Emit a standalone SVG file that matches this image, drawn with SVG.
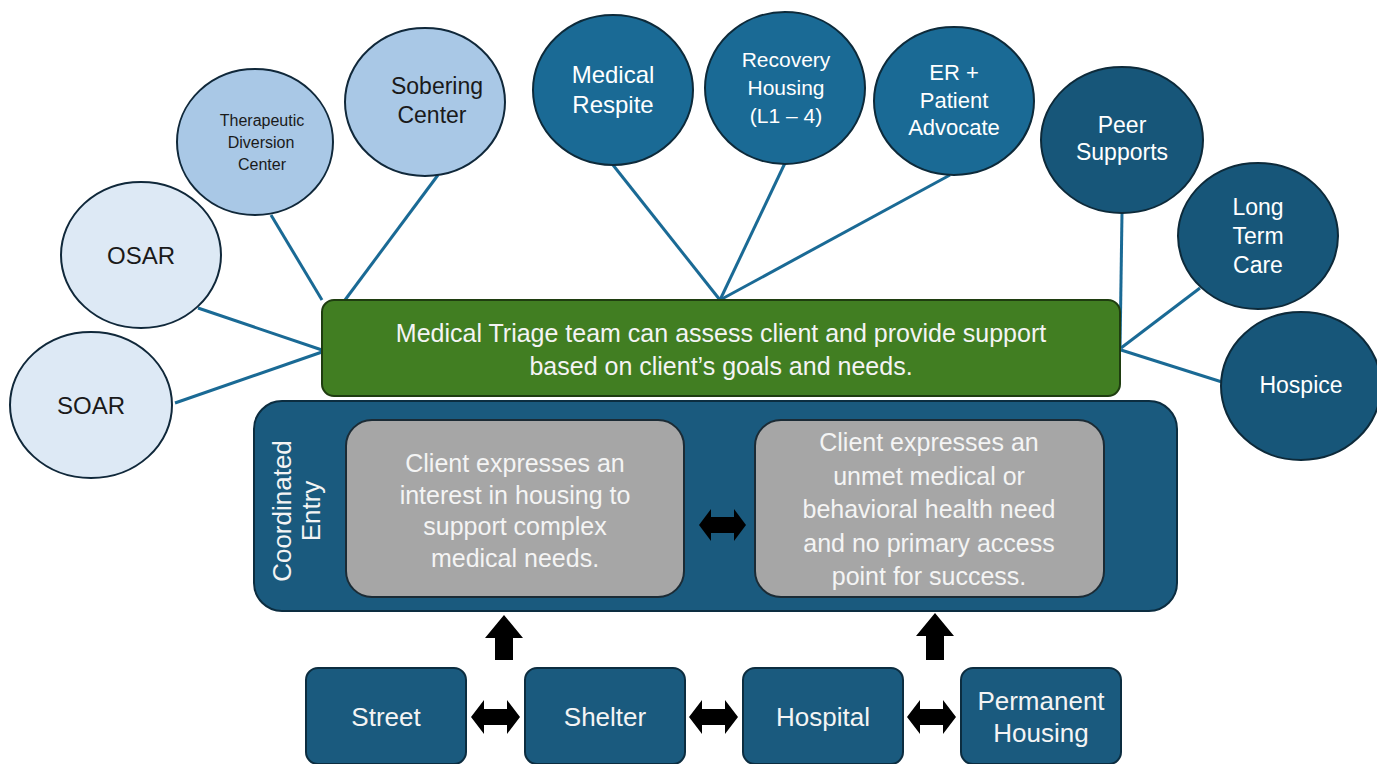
<svg xmlns="http://www.w3.org/2000/svg" width="1377" height="764" viewBox="0 0 1377 764">
<defs>
<style>
.lt{fill:#dde9f5;stroke:#10283a;stroke-width:2}
.md{fill:#a9c8e6;stroke:#10283a;stroke-width:2}
.bl{fill:#1a6a95;stroke:#0d2a3a;stroke-width:2}
.dk{fill:#175679;stroke:#0d2a3a;stroke-width:2}
.box{fill:#1a5a7e;stroke:#0c2d40;stroke-width:2}
.gray{fill:#a6a6a6;stroke:#1b2b35;stroke-width:2}
.green{fill:#417e22;stroke:#1f3d10;stroke-width:2}
text{font-family:"Liberation Sans",Arial,sans-serif;text-anchor:middle}
.dt{fill:#1a1a1a;font-size:23px}
.wt{fill:#ffffff;font-size:22px}
.gt{fill:#f4f4f4;font-size:25px}
.bt{fill:#f4f4f4;font-size:26px}
.con{stroke:#1a6a95;stroke-width:3;fill:none}
.arr{fill:#000}
</style>
</defs>
<rect width="1377" height="764" fill="#fff"/>
<g id="connectors">
<line class="con" x1="198" y1="308" x2="322" y2="350"/>
<line class="con" x1="175" y1="403" x2="322" y2="352"/>
<line class="con" x1="271" y1="215" x2="322" y2="300"/>
<line class="con" x1="438" y1="175" x2="345" y2="300"/>
<line class="con" x1="613" y1="165" x2="720" y2="300"/>
<line class="con" x1="785" y1="163" x2="720" y2="300"/>
<line class="con" x1="950" y1="175" x2="720" y2="300"/>
<line class="con" x1="1122" y1="213" x2="1120" y2="350"/>
<line class="con" x1="1200" y1="288" x2="1121" y2="348"/>
<line class="con" x1="1222" y1="382" x2="1121" y2="350"/>
</g>
<g id="soar"><ellipse class="lt" cx="91" cy="405" rx="81" ry="73"/><text class="dt" style="font-size:24px" x="91" y="414">SOAR</text></g>
<g id="osar"><ellipse class="lt" cx="141" cy="255" rx="80" ry="73"/><text class="dt" style="font-size:24px" x="141" y="264">OSAR</text></g>
<g id="therapeutic"><ellipse class="md" cx="255" cy="142" rx="78" ry="73"/>
<text class="dt" style="font-size:16px" x="262" y="126">Therapeutic</text>
<text class="dt" style="font-size:16px" x="261" y="148">Diversion</text>
<text class="dt" style="font-size:16px" x="262" y="170">Center</text></g>
<g id="sobering"><ellipse class="md" cx="425" cy="102" rx="80" ry="74"/>
<text class="dt" x="437" y="94">Sobering</text><text class="dt" x="432" y="123">Center</text></g>
<g id="respite"><ellipse class="bl" cx="613" cy="90" rx="80" ry="75"/>
<text class="wt" style="font-size:24px" x="613" y="83">Medical</text><text class="wt" style="font-size:24px" x="613" y="113">Respite</text></g>
<g id="recovery"><ellipse class="bl" cx="785" cy="88" rx="80" ry="76"/>
<text class="wt" style="font-size:21px" x="786" y="67">Recovery</text><text class="wt" style="font-size:21px" x="786" y="95">Housing</text><text class="wt" style="font-size:21px" x="786" y="123">(L1 – 4)</text></g>
<g id="er"><ellipse class="bl" cx="954" cy="101" rx="80" ry="74"/>
<text class="wt" x="954" y="80">ER +</text><text class="wt" x="954" y="108">Patient</text><text class="wt" x="954" y="135">Advocate</text></g>
<g id="peer"><ellipse class="dk" cx="1122" cy="140" rx="81" ry="73"/>
<text class="wt" style="font-size:23px" x="1122" y="133">Peer</text><text class="wt" style="font-size:23px" x="1122" y="160">Supports</text></g>
<g id="ltc"><ellipse class="dk" cx="1258" cy="236" rx="80" ry="73"/>
<text class="wt" style="font-size:23px" x="1258" y="215">Long</text><text class="wt" style="font-size:23px" x="1258" y="244">Term</text><text class="wt" style="font-size:23px" x="1258" y="273">Care</text></g>
<g id="hospice"><ellipse class="dk" cx="1301" cy="386" rx="80" ry="74"/>
<text class="wt" style="font-size:23px" x="1301" y="393">Hospice</text></g>
<g id="triage"><rect class="green" x="322" y="300" width="798" height="96" rx="12"/>
<text class="gt" x="721" y="342">Medical Triage team can assess client and provide support</text>
<text class="gt" x="721" y="375">based on client’s goals and needs.</text></g>
<g id="coordinated-entry"><rect class="box" x="254" y="401" width="923" height="210" rx="28"/>
<text class="bt" transform="translate(291,511) rotate(-90)">Coordinated</text>
<text class="bt" transform="translate(320,511) rotate(-90)">Entry</text></g>
<g id="housing-interest"><rect class="gray" x="346" y="420" width="338" height="177" rx="26"/>
<text class="gt" x="515" y="472">Client expresses an</text>
<text class="gt" x="515" y="504">interest in housing to</text>
<text class="gt" x="515" y="535">support complex</text>
<text class="gt" x="515" y="567">medical needs.</text></g>
<g id="unmet-need"><rect class="gray" x="755" y="420" width="349" height="177" rx="26"/>
<text class="gt" x="929" y="451">Client expresses an</text>
<text class="gt" x="929" y="485">unmet medical or</text>
<text class="gt" x="929" y="518">behavioral health need</text>
<text class="gt" x="929" y="552">and no primary access</text>
<text class="gt" x="929" y="585">point for success.</text></g>
<g id="street"><rect class="box" x="306" y="668" width="160" height="96" rx="12"/><text class="bt" x="386" y="726">Street</text></g>
<g id="shelter"><rect class="box" x="525" y="668" width="160" height="96" rx="12"/><text class="bt" x="605" y="726">Shelter</text></g>
<g id="hospital"><rect class="box" x="743" y="668" width="160" height="96" rx="12"/><text class="bt" x="823" y="726">Hospital</text></g>
<g id="permanent"><rect class="box" x="961" y="668" width="160" height="96" rx="12"/><text class="bt" x="1041" y="710">Permanent</text><text class="bt" x="1041" y="742">Housing</text></g>
<g id="arrows">
<path class="arr" d="M699,525 l12,-16 v8 h23 v-8 l12,16 l-12,16 v-8 h-23 v8 z"/>
<path class="arr" d="M471,717 l13,-17 v9 h23 v-9 l13,17 l-13,17 v-9 h-23 v9 z"/>
<path class="arr" d="M689,717 l13,-17 v9 h23 v-9 l13,17 l-13,17 v-9 h-23 v9 z"/>
<path class="arr" d="M907,717 l13,-17 v9 h23 v-9 l13,17 l-13,17 v-9 h-23 v9 z"/>
<path class="arr" d="M504,615 l-19,23 h10 v22 h18 v-22 h10 z"/>
<path class="arr" d="M935,613 l-19,23 h10 v24 h18 v-24 h10 z"/>
</g>
</svg>
